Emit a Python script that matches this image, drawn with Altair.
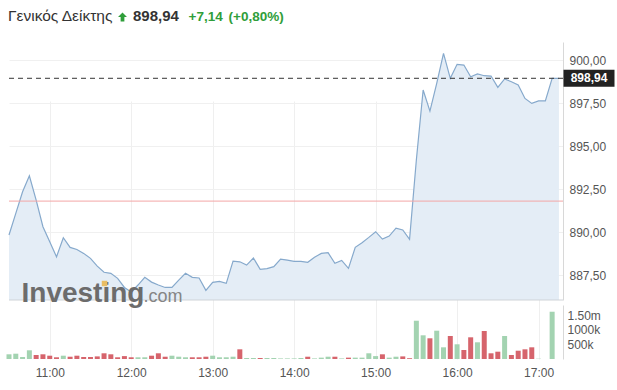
import altair as alt
import pandas as pd

# ---- data ----
times_min = list(range(630, 1040, 5))  # 10:30 .. 17:15, 5-minute bars

price = [889.83, 891.09, 892.34, 893.27, 891.86, 890.31, 889.44, 888.56, 889.67, 889.11,
         888.99, 888.76, 888.47, 888.02, 887.66, 887.60, 887.31, 886.78, 886.51, 886.92,
         887.37, 887.09, 886.92, 886.78, 886.78, 887.21, 887.60, 887.37, 887.33, 886.61,
         887.08, 887.13, 887.02, 888.31, 888.27, 888.08, 888.49, 887.83, 887.87, 887.99,
         888.43, 888.37, 888.30, 888.30, 888.24, 888.53, 888.76, 888.80, 888.18, 888.35,
         887.89, 889.11, 889.38, 889.69, 890.02, 889.59, 889.77, 890.23, 890.12, 889.58,
         894.19, 898.26, 897.03, 898.65, 900.39, 898.94, 899.75, 899.71, 899.03, 899.19,
         899.09, 899.07, 898.41, 898.90, 898.74, 898.55, 897.77, 897.48, 897.63, 897.63,
         898.94, 898.94]

volume_k = [162, 183, 69, 300, 138, 162, 114, 59, 114, 79,
            114, 69, 69, 90, 197, 162, 59, 100, 59, 59,
            59, 114, 197, 79, 114, 79, 59, 59, 59, 79,
            114, 59, 59, 79, 334, 35, 35, 35, 35, 35,
            20, 20, 20, 35, 79, 20, 47, 79, 79, 20,
            47, 47, 47, 197, 100, 162, 47, 79, 90, 27,
            1320, 817, 714, 976, 403, 793, 507, 310, 748, 576,
            966, 197, 252, 793, 138, 286, 334, 403, 10, 0,
            1630, 0]

up = [1, 1, 1, 1, 0, 0, 0, 0, 1, 0,
      0, 0, 0, 0, 0, 0, 0, 0, 0, 1,
      1, 0, 0, 0, 1, 1, 1, 0, 0, 0,
      1, 1, 1, 1, 0, 1, 1, 0, 1, 1,
      1, 1, 1, 1, 0, 1, 1, 1, 0, 1,
      0, 1, 1, 1, 1, 0, 1, 1, 0, 0,
      1, 1, 0, 1, 1, 0, 1, 0, 0, 1,
      0, 0, 0, 1, 0, 0, 0, 0, 1, 1,
      1, 1]

price_ticks = [887.5, 890.0, 892.5, 895.0, 897.5, 900.0]
volume_ticks = [500000, 1000000, 1500000]
hour_ticks = [660, 720, 780, 840, 900, 960, 1020]

last_price = 898.94
prev_close = 891.80
title_name = "Γενικός Δείκτης"
title_price = "898,94"
title_change = "+7,14"
title_pct = "(+0,80%)"

df = pd.DataFrame({
    "t": times_min,
    "price": price,
    "volume": [v * 1000 for v in volume_k],
    "dir": ["up" if u else "down" for u in up],
})

FONT = "Liberation Sans"
PMIN, PMAX = 886.05, 901.05

xscale = alt.Scale(domain=[630, 1038], nice=False, zero=False, padding=0)
x_enc = alt.X("t:Q", scale=xscale,
              axis=alt.Axis(values=hour_ticks, labelExpr="floor(datum.value/60) + ':00'",
                            grid=True, gridColor="#efefef", ticks=False, domain=False,
                            labelPadding=8, labelFontSize=12, labelColor="#555",
                            labelFont=FONT, title=None))

pscale = alt.Scale(domain=[PMIN, PMAX], range=[258, 0], nice=False, zero=False)
paxis = alt.Axis(orient="right", values=price_ticks,
                 labelExpr="replace(format(datum.value, '.2f'), '.', ',')",
                 grid=True, gridColor="#f0f0f0", ticks=False, domain=True,
                 domainColor="#d8d8d8", labelPadding=6, labelFontSize=12,
                 labelColor="#555", labelFont=FONT, title=None)

base = alt.Chart(df)

area = base.mark_area(color="#e4edf6").encode(
    x=x_enc,
    y=alt.Y("price:Q", scale=pscale, axis=paxis),
    y2=alt.Y2Datum(PMIN),
)
line = base.mark_line(color="#86a9cc", strokeWidth=1.2).encode(
    x=x_enc, y=alt.Y("price:Q", scale=pscale, axis=paxis))

one = pd.DataFrame({"k": [0]})
prev_rule = alt.Chart(one).mark_rule(color="#f3a6a6", strokeWidth=1).encode(
    y=alt.YDatum(prev_close, scale=pscale, axis=paxis))
last_rule = alt.Chart(one).mark_rule(color="#333", strokeWidth=1, strokeDash=[5, 4]).encode(
    y=alt.YDatum(last_price, scale=pscale, axis=paxis))
bottom_rule = alt.Chart(one).mark_rule(color="#cfd3d8", strokeWidth=1).encode(
    y=alt.YDatum(PMIN, scale=pscale, axis=paxis))

tag_box = alt.Chart(one).mark_tick(color="#222", thickness=17, size=51, opacity=1, orient="horizontal").encode(
    y=alt.YDatum(last_price, scale=pscale, axis=paxis), x=alt.value(580))
tag_text = alt.Chart(pd.DataFrame({"s": [title_price]})).mark_text(
    color="white", fontWeight="bold", fontSize=12, font=FONT, align="center", baseline="middle").encode(
    y=alt.YDatum(last_price, scale=pscale, axis=paxis), x=alt.value(580), text="s:N")


def label(text, x, y, **kw):
    return alt.Chart(pd.DataFrame({"s": [text]})).mark_text(
        align="left", baseline="alphabetic", font=FONT, **kw).encode(
        x=alt.value(x), y=alt.value(y), text="s:N")


hdr1 = label(title_name, -1, -21.5, fontSize=15.5, color="#333")
hdr2 = label(title_price, 124, -21.5, fontSize=15, fontWeight="bold", color="#333")
hdr3 = label(title_change, 179.5, -21.5, fontSize=13.5, fontWeight="bold", color="#2f9e3a")
hdr4 = label(title_pct, 219.5, -21.5, fontSize=13.5, fontWeight="bold", color="#2f9e3a")
arrow = alt.Chart(one).mark_point(
    shape="M0,-1 L1,0 L0.42,0 L0.42,1 L-0.42,1 L-0.42,0 L-1,0 Z",
    filled=True, color="#2f9e3a", size=80, opacity=1).encode(
    x=alt.value(113.5), y=alt.value(-25))

wm1 = label("Investing", 12.5, 259.5, fontSize=28, fontWeight="bold", color="#6c6c6c")
wm2 = label(".com", 134.5, 259.5, fontSize=18, color="#858585")
wm_dot = alt.Chart(one).mark_square(color="#e9bd63", size=30, opacity=1).encode(
    x=alt.value(95.5), y=alt.value(241.5))

price_layer = alt.layer(area, line, prev_rule, bottom_rule, last_rule, tag_box, tag_text,
                        hdr1, arrow, hdr2, hdr3, hdr4, wm1, wm2, wm_dot)

vol = base.mark_bar(width=5).encode(
    x=x_enc,
    y=alt.Y("volume:Q",
            scale=alt.Scale(domain=[0, 1862000], range=[317, 263], nice=False),
            axis=alt.Axis(orient="right", values=volume_ticks,
                          labelExpr="datum.value >= 1500000 ? '1.50m' : (datum.value/1000) + 'k'",
                          grid=False, ticks=False, domain=True, domainColor="#d8d8d8",
                          labelPadding=4, labelFontSize=12, labelColor="#555",
                          labelFont=FONT, title=None)),
    color=alt.Color("dir:N", scale=alt.Scale(domain=["up", "down"], range=["#a3d3b1", "#d6646c"]),
                    legend=None),
)

chart = alt.layer(price_layer, vol).resolve_scale(y="independent").properties(
    width=554, height=317,
    padding={"left": 9, "top": 42, "right": 54, "bottom": 31},
    autosize=alt.AutoSizeParams(type="none"),
    background="white",
).configure_view(stroke=None)

chart.save("out.html", embed_options={"renderer": "svg", "actions": False})
